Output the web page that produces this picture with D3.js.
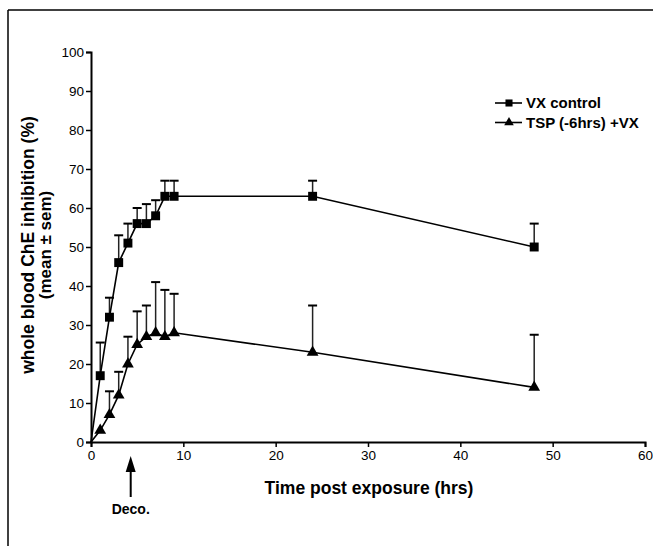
<!DOCTYPE html>
<html>
<head>
<meta charset="utf-8">
<script src="https://cdn.jsdelivr.net/npm/d3@7"></script>
<style>
body { margin: 0; background: #fff; }
svg { display: block; font-family: "Liberation Sans", Arial, sans-serif; }
</style>
</head>
<body>
<div id="chart"></div>
<script>
// time points (hrs), first point is the origin the lines start from
var hours = [0, 1, 2, 3, 4, 5, 6, 7, 8, 9, 24, 48];

// VX control
var vxMean = [0, 17, 32, 46, 51, 56, 56, 58, 63, 63, 63, 50];
var vxSem  = [0, 8.5, 5, 7, 5, 4, 5, 4, 4, 4, 4, 6];

// TSP (-6hrs) +VX
var tspMean = [0, 3, 7, 12, 20, 25, 27, 28, 27, 28, 23, 14];
var tspSem  = [0, 0, 6, 6, 7, 8.5, 8, 13, 12, 10, 12, 13.5];

var xTicks = [0, 10, 20, 30, 40, 50, 60];
var yTicks = [0, 10, 20, 30, 40, 50, 60, 70, 80, 90, 100];

var seriesNames = ["VX control", "TSP (-6hrs) +VX"];
var decoTime = 4.3;

var width = 653, height = 546;

var svg = d3.select("#chart").append("svg")
    .attr("width", width)
    .attr("height", height);

// frame (top and left only, like the scan)
svg.append("line").attr("x1", 8).attr("y1", 10).attr("x2", width).attr("y2", 10)
    .attr("stroke", "#000").attr("stroke-width", 1.5);
svg.append("line").attr("x1", 8).attr("y1", 10).attr("x2", 8).attr("y2", height)
    .attr("stroke", "#000").attr("stroke-width", 1.5);

var x = d3.scaleLinear().domain([0, 60]).range([91, 645]);
var y = d3.scaleLinear().domain([0, 100]).range([442, 52]);

// axes
var xAxis = svg.append("g")
    .attr("transform", "translate(0," + y(0) + ")")
    .call(d3.axisBottom(x).tickValues(xTicks).tickSize(5).tickPadding(3));
var yAxis = svg.append("g")
    .attr("transform", "translate(" + x(0) + ",0)")
    .call(d3.axisLeft(y).tickValues(yTicks).tickSize(5).tickPadding(2));

[xAxis, yAxis].forEach(function(ax) {
    ax.select(".domain").attr("stroke-width", 2);
    ax.selectAll(".tick line").attr("stroke-width", 1.5);
    ax.selectAll(".tick text")
        .style("font-size", "13.5px")
        .style("font-family", "'Liberation Sans', Arial, sans-serif")
        .attr("fill", "#000");
});

// axis titles
svg.append("text")
    .attr("x", 369).attr("y", 494)
    .attr("text-anchor", "middle")
    .style("font-size", "17.5px").style("font-weight", "bold")
    .text("Time post exposure (hrs)");

svg.append("text")
    .attr("transform", "translate(34,245) rotate(-90)")
    .attr("text-anchor", "middle")
    .style("font-size", "17.5px").style("font-weight", "bold")
    .text("whole blood ChE inhibition (%)");

svg.append("text")
    .attr("transform", "translate(51,245) rotate(-90)")
    .attr("text-anchor", "middle")
    .style("font-size", "17px").style("font-weight", "bold")
    .text("(mean \u00b1 sem)");

// Deco. arrow
svg.append("line")
    .attr("x1", x(decoTime)).attr("x2", x(decoTime))
    .attr("y1", 497).attr("y2", 468)
    .attr("stroke", "#000").attr("stroke-width", 2);
svg.append("path")
    .attr("d", "M" + x(decoTime) + ",456 l-5,16 l10,0 z")
    .attr("fill", "#000");
svg.append("text")
    .attr("x", x(decoTime)).attr("y", 514)
    .attr("text-anchor", "middle")
    .style("font-size", "14px").style("font-weight", "bold")
    .text("Deco.");

////////////////////////////////////////

function drawSeries(mean, sem, shape) {
    var pts = hours.map(function(h, i) { return {t: h, m: mean[i], s: sem[i]}; });

    // error bars (upper only)
    var eb = pts.filter(function(d) { return d.t > 0 && d.s > 0; });
    svg.append("g").selectAll("line").data(eb).enter().append("line")
        .attr("x1", function(d) { return x(d.t); })
        .attr("x2", function(d) { return x(d.t); })
        .attr("y1", function(d) { return y(d.m); })
        .attr("y2", function(d) { return y(d.m + d.s); })
        .attr("stroke", "#222").attr("stroke-width", 1.5);
    svg.append("g").selectAll("line").data(eb).enter().append("line")
        .attr("x1", function(d) { return x(d.t) - 4.5; })
        .attr("x2", function(d) { return x(d.t) + 4.5; })
        .attr("y1", function(d) { return y(d.m + d.s); })
        .attr("y2", function(d) { return y(d.m + d.s); })
        .attr("stroke", "#000").attr("stroke-width", 2);

    var line = d3.line()
        .x(function(d) { return x(d.t); })
        .y(function(d) { return y(d.m); });
    svg.append("path").datum(pts)
        .attr("d", line)
        .attr("fill", "none")
        .attr("stroke", "#000")
        .attr("stroke-width", 1.6);

    var sym = d3.symbol().type(shape).size(shape === d3.symbolSquare ? 80 : 60);
    svg.append("g").selectAll("path")
        .data(pts.filter(function(d) { return d.t > 0; }))
        .enter().append("path")
        .attr("d", sym)
        .attr("transform", function(d) { return "translate(" + x(d.t) + "," + y(d.m) + ")"; })
        .attr("fill", "#000");
}

drawSeries(vxMean, vxSem, d3.symbolSquare);
drawSeries(tspMean, tspSem, d3.symbolTriangle);

// legend
var legend = svg.append("g");
var shapes = [d3.symbolSquare, d3.symbolTriangle];
seriesNames.forEach(function(name, i) {
    var ly = 103 + i * 19.5;
    legend.append("line")
        .attr("x1", 495).attr("x2", 522).attr("y1", ly).attr("y2", ly)
        .attr("stroke", "#000").attr("stroke-width", 1.6);
    legend.append("path")
        .attr("d", d3.symbol().type(shapes[i]).size(i === 0 ? 50 : 40))
        .attr("transform", "translate(509," + ly + ")")
        .attr("fill", "#000");
    legend.append("text")
        .attr("x", 526).attr("y", ly + 5)
        .style("font-size", "15px").style("font-weight", "bold")
        .text(name);
});
</script>
</body>
</html>
